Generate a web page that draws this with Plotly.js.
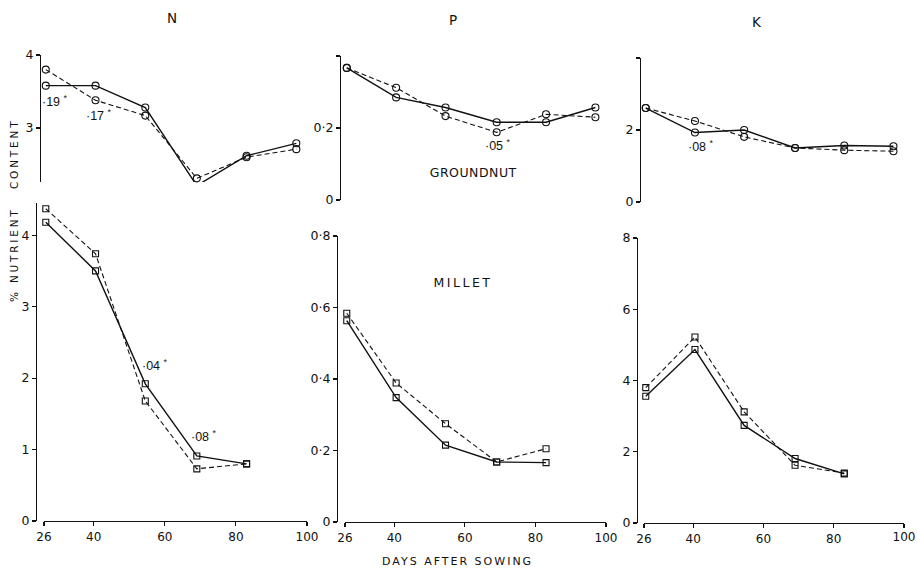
<!DOCTYPE html>
<html>
<head>
<meta charset="utf-8">
<script src="https://cdn.plot.ly/plotly-3.0.1.min.js"></script>
<style>
html,body{margin:0;padding:0;background:#fff;overflow:hidden;}
#wrap{position:relative;width:917px;height:568px;}
#chart{width:917px;height:568px;}
#lastTickLabel{position:absolute;left:880px;top:530px;width:46px;text-align:center;
  font-family:'DejaVu Sans',sans-serif;font-size:12px;line-height:14px;color:#111;white-space:nowrap;}
</style>
</head>
<body>
<div id="wrap">
<div id="chart"></div>
<div id="lastTickLabel"></div>
</div>
<script>
// ---- data ----
const daysGroundnut = [26.5, 40.5, 54.5, 69, 83, 97];
const daysMillet = [26.5, 40.5, 54.5, 69, 83];

const groundnutN_solid = [3.58, 3.58, 3.28, 2.21, 2.62, 2.79];
const groundnutN_dashed = [3.80, 3.38, 3.17, 2.31, 2.60, 2.71];
const groundnutP_solid = [0.367, 0.285, 0.257, 0.216, 0.216, 0.257];
const groundnutP_dashed = [0.367, 0.312, 0.233, 0.188, 0.238, 0.230];
const groundnutK_solid = [2.61, 1.93, 2.00, 1.50, 1.57, 1.55];
const groundnutK_dashed = [2.61, 2.25, 1.81, 1.50, 1.44, 1.41];

const milletN_solid = [4.18, 3.50, 1.92, 0.91, 0.80];
const milletN_dashed = [4.37, 3.74, 1.68, 0.73, 0.80];
const milletP_solid = [0.563, 0.348, 0.215, 0.168, 0.166];
const milletP_dashed = [0.584, 0.389, 0.275, 0.168, 0.205];
const milletK_solid = [3.56, 4.87, 2.74, 1.81, 1.38];
const milletK_dashed = [3.80, 5.22, 3.12, 1.62, 1.40];

const xTicks = [26, 40, 60, 80, 100];
const columnTitles = ['N', 'P', 'K'];

// ---- helpers ----
const W = 917, H = 568;
const fx = p => p / W;
const fy = p => 1 - p / H;
const FONT = 'DejaVu Sans, sans-serif';
const FONT2 = 'Liberation Sans, Arial, sans-serif';

function line(x, y, xa, ya, dashed, symbol) {
  return {
    type: 'scatter', mode: 'lines+markers', x: x, y: y, xaxis: xa, yaxis: ya,
    showlegend: false, cliponaxis: false, hoverinfo: 'skip',
    line: {color: '#111', width: dashed ? 1.1 : 1.4, dash: dashed ? '5px,3px' : 'solid'},
    marker: {symbol: symbol, size: symbol === 'square-open' ? 6 : 7, color: '#111',
             line: {color: '#111', width: 1.1}}
  };
}

const traces = [
  line(daysGroundnut, groundnutN_dashed, 'x', 'y', true, 'circle-open'),
  line(daysGroundnut, groundnutN_solid, 'x', 'y', false, 'circle-open'),
  line(daysGroundnut, groundnutP_dashed, 'x2', 'y2', true, 'circle-open'),
  line(daysGroundnut, groundnutP_solid, 'x2', 'y2', false, 'circle-open'),
  line(daysGroundnut, groundnutK_dashed, 'x3', 'y3', true, 'circle-open'),
  line(daysGroundnut, groundnutK_solid, 'x3', 'y3', false, 'circle-open'),
  line(daysMillet, milletN_dashed, 'x4', 'y4', true, 'square-open'),
  line(daysMillet, milletN_solid, 'x4', 'y4', false, 'square-open'),
  line(daysMillet, milletP_dashed, 'x5', 'y5', true, 'square-open'),
  line(daysMillet, milletP_solid, 'x5', 'y5', false, 'square-open'),
  line(daysMillet, milletK_dashed, 'x6', 'y6', true, 'square-open'),
  line(daysMillet, milletK_solid, 'x6', 'y6', false, 'square-open')
];

const tickFont = {family: FONT, size: 12.5, color: '#111'};
const xTickFont = {family: FONT, size: 12, color: '#111'};

function xAx(d0, d1, anchor, visible, vals, minorVals) {
  const a = {domain: [fx(d0), fx(d1)], range: [26, 100], anchor: anchor, visible: visible,
          tickvals: vals || xTicks, ticks: 'outside', ticklen: 4, tickwidth: 1.1, tickcolor: '#111',
          showline: true, linecolor: '#111', linewidth: 1.3, showgrid: false, zeroline: false,
          tickfont: xTickFont, ticklabeloverflow: 'allow', fixedrange: true};
  if (minorVals) a.minor = {tickvals: minorVals, ticks: 'outside', ticklen: 4, tickwidth: 1.1,
                            tickcolor: '#111', showgrid: false};
  return a;
}
function yAx(top, bottom, pos, range, vals, text, minorVals) {
  const a = {domain: [fy(bottom), fy(top)], range: range, anchor: 'free', position: fx(pos),
          tickvals: vals, ticktext: text, ticks: 'outside', ticklen: 4, tickwidth: 1.1,
          tickcolor: '#111', showline: true, linecolor: '#111', linewidth: 1.3,
          showgrid: false, zeroline: false, tickfont: tickFont, fixedrange: true};
  if (minorVals) a.minor = {tickvals: minorVals, ticks: 'outside', ticklen: 4, tickwidth: 1.1,
                            tickcolor: '#111', showgrid: false};
  return a;
}

function ann(text, x, y, size, extra, family) {
  return Object.assign({text: text, x: fx(x), y: fy(y), xref: 'paper', yref: 'paper',
    showarrow: false, xanchor: 'center', yanchor: 'middle',
    font: {family: family || FONT, size: size, color: '#111'}}, extra || {});
}

const lastTick = xTicks[xTicks.length - 1];

const layout = {
  width: W, height: H,
  margin: {l: 0, r: 0, t: 0, b: 0},
  paper_bgcolor: '#fff', plot_bgcolor: 'rgba(0,0,0,0)',
  showlegend: false,
  xaxis: xAx(44, 307, 'y', false),
  yaxis: yAx(55, 182, 40, [2.26, 4], [3, 4], ['3', '4']),
  xaxis2: xAx(345, 606, 'y2', false),
  yaxis2: yAx(56, 200, 340, [0, 0.4], [0, 0.2], ['0', '0·2'], [0.4]),
  xaxis3: xAx(644, 904, 'y3', false),
  yaxis3: yAx(58, 202, 640, [0, 4], [0, 2], ['0', '2'], [4]),
  xaxis4: xAx(44, 307, 'y4', true),
  yaxis4: yAx(203, 521, 36, [0, 4.45], [0, 1, 2, 3, 4], ['0', '1', '2', '3', '4']),
  xaxis5: xAx(345, 606, 'y5', true),
  yaxis5: yAx(236, 522, 337, [0, 0.8], [0, 0.2, 0.4, 0.6, 0.8], ['0', '0·2', '0·4', '0·6', '0·8']),
  xaxis6: xAx(644, 904, 'y6', true, xTicks.slice(0, -1), [lastTick]),
  yaxis6: yAx(238, 523, 637, [0, 8], [0, 2, 4, 6, 8], ['0', '2', '4', '6', '8']),
  annotations: [
    ann(columnTitles[0], 172, 18, 13.5),
    ann(columnTitles[1], 453, 20, 13.5),
    ann(columnTitles[2], 757, 22, 13.5),
    ann('GROUNDNUT', 473, 172, 12.5),
    ann('MILLET', 463, 283, 12.5),
    ann('DAYS AFTER SOWING', 457, 561, 11),
    ann('% NUTRIENT   CONTENT', 14, 210, 10.5, {textangle: -90}),
    ann('·19 <sup>*</sup>', 55, 101, 12.5, null, FONT2),
    ann('·17 <sup>*</sup>', 99, 115, 12.5, null, FONT2),
    ann('·05 <sup>*</sup>', 498, 145, 12.5, null, FONT2),
    ann('·08 <sup>*</sup>', 701, 146, 12.5, null, FONT2),
    ann('·04 <sup>*</sup>', 155, 365, 12.5, null, FONT2),
    ann('·08 <sup>*</sup>', 204, 436, 12.5, null, FONT2)
  ]
};

Plotly.newPlot('chart', traces, layout, {staticPlot: true, displayModeBar: false}).then(() => {
  const spacing = {'GROUNDNUT': '0.5px', 'MILLET': '2.5px', 'DAYS AFTER SOWING': '2px',
                   '% NUTRIENT   CONTENT': '2.8px'};
  document.querySelectorAll('.annotation-text').forEach(el => {
    const t = el.textContent;
    if (spacing[t]) el.style.letterSpacing = spacing[t];
  });
  // last tick label of the K millet axis, placed at that axis' end through its own scale
  const gd = document.getElementById('chart');
  const ax = gd._fullLayout.xaxis6;
  const px = ax._offset + ax.l2p(ax.r2l(lastTick));
  const lab = document.getElementById('lastTickLabel');
  lab.textContent = String(lastTick);
  lab.style.left = (px - 23) + 'px';
});
</script>
</body>
</html>
